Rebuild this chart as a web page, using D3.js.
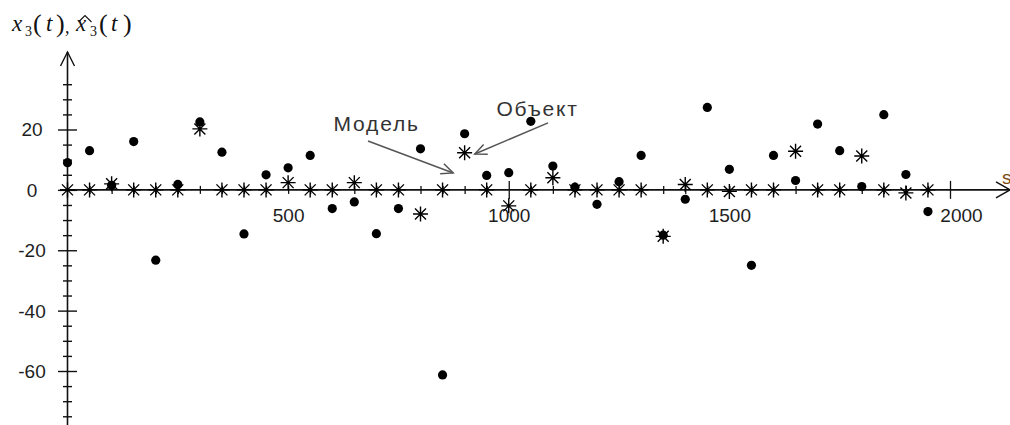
<!DOCTYPE html>
<html>
<head>
<meta charset="utf-8">
<script src="https://cdn.jsdelivr.net/npm/d3@7"></script>
<style>
  body { margin: 0; background: #fff; }
  svg { display: block; }
  .lbl { font-family: "Liberation Sans", Arial, sans-serif; font-size: 19px; fill: #1e1e1e; }
</style>
</head>
<body>
<svg width="1010" height="425"></svg>
<script>
// sample times (s) and the two series
const times = [0, 50, 100, 150, 200, 250, 300, 350, 400, 450,
  500, 550, 600, 650, 700, 750, 800, 850, 900, 950,
  1000, 1050, 1100, 1150, 1200, 1250, 1300, 1350, 1400, 1450,
  1500, 1550, 1600, 1650, 1700, 1750, 1800, 1850, 1900, 1950];

// object x3(t) - filled dots
const objectVals = [9, 13, 1.5, 16, -23.3, 1.8, 22.5, 12.5, -14.6, 5,
  7.3, 11.4, -6.2, -4, -14.5, -6.2, 13.6, -61.3, 18.6, 4.8,
  5.7, 22.7, 7.9, 0.9, -4.8, 2.7, 11.4, -15, -3.1, 27.3,
  6.8, -25, 11.4, 3.1, 21.8, 13, 1.1, 24.9, 5.1, -7.2];

// model x3^(t) - asterisks
const modelVals = [0, 0, 2, 0, 0, 0, 20.2, 0, 0, 0,
  2.4, 0, 0, 2.4, 0, 0, -8, 0, 12.3, 0,
  -5.3, 0, 4, 0, 0, 0, 0, -15.4, 1.8, 0,
  -0.5, 0, 0, 12.8, 0, 0, 11.2, 0, -1, 0];

const xLabels = [500, 1000, 1500, 2000];
const yLabels = [20, 0, -20, -40, -60];

// annotations: text anchor and arrow (tail -> tip), in data units
const notes = [
  {text: "Модель", at: [603, 19.4], from: [681, 16.2], to: [874, 5.6]},
  {text: "Объект", at: [972, 24.4], from: [1089, 22.2], to: [923, 11.9]}
];

const svg = d3.select("svg");

const x = d3.scaleLinear().domain([0, 2000]).range([67.5, 950]);
const y = d3.scaleLinear().domain([-60, 20]).range([371, 129.5]);

const x0 = x(0), y0 = y(0);

// ---- axes ----
const axisColor = "#111";

// y axis line with arrow
svg.append("line")
  .attr("x1", x0).attr("x2", x0)
  .attr("y1", 52).attr("y2", 425)
  .attr("stroke", axisColor).attr("stroke-width", 1.6);
svg.append("path")
  .attr("d", `M${x0 - 7},${66}L${x0},${52}L${x0 + 7},${66}`)
  .attr("fill", "none").attr("stroke", axisColor).attr("stroke-width", 1.4);

// x axis line with arrow
svg.append("line")
  .attr("x1", 60).attr("x2", 1010)
  .attr("y1", y0).attr("y2", y0)
  .attr("stroke", axisColor).attr("stroke-width", 1.6);
svg.append("path")
  .attr("d", `M${996},${y0 - 8}L${1010},${y0}L${996},${y0 + 8}`)
  .attr("fill", "none").attr("stroke", axisColor).attr("stroke-width", 1.4);

// y ticks every 5, labels every 20
const yTicks = d3.range(-75, 40, 5);
const gy = svg.append("g")
  .attr("transform", `translate(${x0},0)`)
  .call(d3.axisLeft(y)
    .tickValues(yTicks)
    .tickSize(4)
    .tickFormat(d => yLabels.includes(d) ? d : ""));
gy.select(".domain").remove();
gy.selectAll(".tick line")
  .attr("x1", d => d % 20 === 0 ? 9.5 : 4.5)
  .attr("x2", d => d % 20 === 0 ? -9.5 : -4.5)
  .attr("stroke", axisColor).attr("stroke-width", 1.4);
gy.selectAll(".tick text")
  .attr("class", "lbl")
  .attr("x", 32 - x0)
  .attr("dy", "0.34em")
  .attr("text-anchor", "middle")
  .attr("fill", null);

// x ticks every 50, labels every 500
const xTicks = d3.range(50, 2050, 50);
const gx = svg.append("g")
  .attr("transform", `translate(0,${y0})`)
  .call(d3.axisBottom(x)
    .tickValues(xTicks)
    .tickSize(4)
    .tickFormat(d => xLabels.includes(d) ? d : ""));
gx.select(".domain").remove();
gx.selectAll(".tick line")
  .attr("y1", d => d % 1000 === 0 ? -9 : -4)
  .attr("y2", d => d % 1000 === 0 ? 9 : 4)
  .attr("stroke", axisColor).attr("stroke-width", 1.3);
gx.selectAll(".tick text")
  .attr("class", "lbl")
  .attr("y", 32)
  .attr("dy", null)
  .attr("dx", d => d === 2000 ? 11 : 0)
  .attr("fill", null);

// axis name on x
svg.append("text").attr("class", "lbl")
  .attr("x", 1002).attr("y", 184)
  .style("fill", "#7a4a10")
  .text("s");

// ---- title x3(t), x^3(t) ----
const title = svg.append("g")
  .style("font-family", "'Liberation Serif', 'Times New Roman', serif")
  .attr("fill", "#111");
const parts = [
  {t: "x", x: 12, y: 31, s: 23, i: true},
  {t: "3", x: 25, y: 36, s: 14},
  {t: "(", x: 33, y: 32, s: 26},
  {t: "t", x: 46, y: 31, s: 23, i: true},
  {t: ")", x: 56, y: 32, s: 26},
  {t: ",", x: 65, y: 33, s: 18},
  {t: "x", x: 76, y: 31, s: 23, i: true},
  {t: "3", x: 90, y: 36, s: 14},
  {t: "(", x: 99, y: 32, s: 26},
  {t: "t", x: 111, y: 31, s: 23, i: true},
  {t: ")", x: 123, y: 32, s: 26}
];
title.selectAll("text")
  .data(parts)
  .enter()
  .append("text")
  .attr("x", d => d.x)
  .attr("y", d => d.y)
  .style("font-size", d => d.s + "px")
  .style("font-style", d => d.i ? "italic" : "normal")
  .text(d => d.t);

// wide hat over the second x
title.append("path")
  .attr("d", "M78.5,22L85,15.5L91.5,22")
  .attr("fill", "none")
  .attr("stroke", "#111")
  .attr("stroke-width", 1.1);

// ---- marks ----
const pts = times.map((t, i) => ({t: t, obj: objectVals[i], mod: modelVals[i]}));

// asterisk used for the model
function asterisk(cx, cy) {
  const r = 7.5, d = 5.5;
  return `M${cx - r},${cy}H${cx + r}M${cx},${cy - r}V${cy + r}` +
    `M${cx - d},${cy - d}L${cx + d},${cy + d}M${cx - d},${cy + d}L${cx + d},${cy - d}`;
}

svg.append("g").selectAll("path")
  .data(pts)
  .enter()
  .append("path")
  .attr("d", d => asterisk(x(d.t), y(d.mod)))
  .attr("fill", "none")
  .attr("stroke", "#000")
  .attr("stroke-width", 1.4);

svg.append("g").selectAll("circle")
  .data(pts)
  .enter()
  .append("circle")
  .attr("cx", d => x(d.t))
  .attr("cy", d => y(d.obj))
  .attr("r", 4.6)
  .attr("fill", "#000");

// ---- annotations ----
const ann = svg.append("g");
notes.forEach(function(n) {
  const x1 = x(n.from[0]), y1 = y(n.from[1]);
  const x2 = x(n.to[0]), y2 = y(n.to[1]);
  const ang = Math.atan2(y2 - y1, x2 - x1);
  const h = 13, spread = 0.42;

  ann.append("line")
    .attr("x1", x1).attr("y1", y1)
    .attr("x2", x2).attr("y2", y2)
    .attr("stroke", "#555").attr("stroke-width", 1.5);

  ann.append("path")
    .attr("d", `M${x2 - h * Math.cos(ang - spread)},${y2 - h * Math.sin(ang - spread)}` +
      `L${x2},${y2}` +
      `L${x2 - h * Math.cos(ang + spread)},${y2 - h * Math.sin(ang + spread)}`)
    .attr("fill", "none").attr("stroke", "#555").attr("stroke-width", 1.5);

  ann.append("text")
    .attr("class", "lbl")
    .attr("x", x(n.at[0]))
    .attr("y", y(n.at[1]))
    .style("font-size", "21px")
    .style("letter-spacing", "1.8px")
    .style("fill", "#333")
    .text(n.text);
});
</script>
</body>
</html>
